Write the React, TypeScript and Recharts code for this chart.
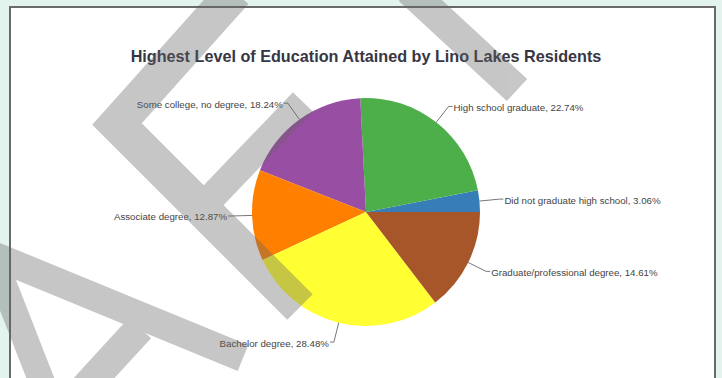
import React from 'react';
import { PieChart, Pie, Cell } from 'recharts';

const chartTitle = 'Highest Level of Education Attained by Lino Lakes Residents';
const categories = [
  'Did not graduate high school',
  'High school graduate',
  'Some college, no degree',
  'Associate degree',
  'Bachelor degree',
  'Graduate/professional degree',
];
const shares = [3.06, 22.74, 18.24, 12.87, 28.48, 14.61];
const sliceColors = ['#377eb8', '#4daf4a', '#984ea3', '#ff7f00', '#ffff33', '#a65628'];

const data = categories.map((name, i) => ({ name, value: shares[i] }));

const RAD = Math.PI / 180;

function renderLabel(props: any) {
  const { cx, cy, midAngle, outerRadius, index } = props;
  const cos = Math.cos(-midAngle * RAD);
  const sin = Math.sin(-midAngle * RAD);
  const x0 = cx + outerRadius * cos;
  const y0 = cy + outerRadius * sin;
  const x1 = cx + (outerRadius + 20) * cos;
  const y1 = cy + (outerRadius + 20) * sin;
  const right = cos >= 0;
  const x2 = x1 + (right ? 4 : -4);
  const tx = x2 + (right ? 1 : -1);
  return (
    <g key={`lbl-${index}`}>
      <polyline
        points={`${x0},${y0} ${x1},${y1} ${x2},${y1}`}
        fill="none"
        stroke="#777"
        strokeWidth={1}
      />
      <text
        x={tx}
        y={y1 + 1}
        textAnchor={right ? 'start' : 'end'}
        dominantBaseline="central"
        fontSize={9.7}
        fill="#444"
        fontFamily="'Liberation Sans', Arial, sans-serif"
      >
        {`${categories[index]}, ${shares[index].toFixed(2)}%`}
      </text>
    </g>
  );
}

function Watermark() {
  return (
    <svg
      width={722}
      height={378}
      style={{ position: 'absolute', left: 0, top: 0, pointerEvents: 'none' }}
    >
      <g opacity={0.36} stroke="rgb(100,100,100)" fill="none" strokeLinejoin="miter" strokeLinecap="butt">
        <polyline points="235,-8 117,124 300,307" strokeWidth={36} />
        <line x1={303} y1={102} x2={210} y2={199} strokeWidth={28} />
        <line x1={409} y1={-10} x2={517} y2={90} strokeWidth={30} />
        <line x1={-10} y1={254} x2={243} y2={358} strokeWidth={28} />
        <line x1={140} y1={328} x2={85} y2={388} strokeWidth={30} />
        <line x1={-5} y1={262} x2={45} y2={390} strokeWidth={26} />
      </g>
    </svg>
  );
}

export default function App() {
  return (
    <div
      style={{
        position: 'absolute',
        left: 0,
        top: 0,
        width: 722,
        height: 378,
        overflow: 'hidden',
        background: '#e3f3ee',
      }}
    >
      <div
        style={{
          position: 'absolute',
          left: 9,
          top: 6,
          width: 707,
          height: 400,
          background: '#ffffff',
          border: '2px solid #6a6a6a',
          boxSizing: 'border-box',
        }}
      />
      <div
        style={{
          position: 'absolute',
          left: 0,
          top: 46,
          width: 732,
          textAlign: 'center',
          fontFamily: "'Liberation Sans', Arial, sans-serif",
          fontWeight: 'bold',
          fontSize: 16.2,
          color: '#363645',
          lineHeight: '20px',
        }}
      >
        {chartTitle}
      </div>
      <div style={{ position: 'absolute', left: 0, top: 0 }}>
        <PieChart width={722} height={378} margin={{ top: 0, right: 0, bottom: 0, left: 0 }}>
          <Pie
            data={data}
            dataKey="value"
            nameKey="name"
            cx={366}
            cy={212}
            outerRadius={114}
            startAngle={0}
            endAngle={360}
            stroke="none"
            label={renderLabel}
            labelLine={false}
            isAnimationActive={false}
          >
            {data.map((d, i) => (
              <Cell key={d.name} fill={sliceColors[i]} />
            ))}
          </Pie>
        </PieChart>
      </div>
      <Watermark />
    </div>
  );
}
